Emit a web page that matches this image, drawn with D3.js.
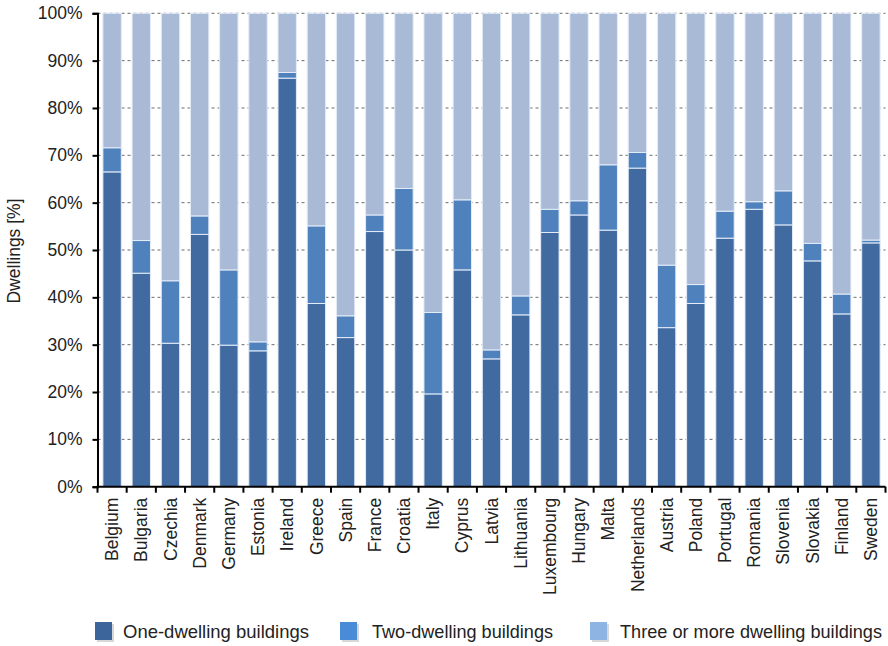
<!DOCTYPE html>
<html><head><meta charset="utf-8">
<script src="https://cdn.jsdelivr.net/npm/d3@7"></script>
<style>
html,body{margin:0;padding:0;background:#fff;}
svg{display:block;font-family:"Liberation Sans",Arial,sans-serif;}
</style></head>
<body><svg id="chart" width="888" height="646"></svg>
<script>
const categories = ["Belgium","Bulgaria","Czechia","Denmark","Germany","Estonia","Ireland","Greece","Spain","France","Croatia","Italy","Cyprus","Latvia","Lithuania","Luxembourg","Hungary","Malta","Netherlands","Austria","Poland","Portugal","Romania","Slovenia","Slovakia","Finland","Sweden"];
const oneDwelling   = [66.5,45.1,30.3,53.3,29.9,28.7,86.3,38.7,31.5,53.9,50.0,19.6,45.8,27.0,36.3,53.7,57.4,54.2,67.3,33.6,38.7,52.5,58.6,55.3,47.7,36.5,51.5];
const twoDwelling   = [5.1,6.9,13.2,3.9,15.9,1.9,1.2,16.4,4.6,3.5,13.0,17.2,14.8,1.9,4.0,4.9,3.0,13.8,3.3,13.2,4.0,5.7,1.6,7.2,3.7,4.2,0.6];
const threeDwelling = [28.4,48.0,56.5,42.8,54.2,69.4,12.5,44.9,63.9,42.6,37.0,63.2,39.4,71.1,59.7,41.4,39.6,32.0,29.4,53.2,57.3,41.8,39.8,37.5,48.6,59.3,47.9];
const seriesNames = ["One-dwelling buildings","Two-dwelling buildings","Three or more dwelling buildings"];
const yTicks = [0,10,20,30,40,50,60,70,80,90,100];

const barColors = ["#406AA0","#4F81BD","#A9BAD7"];
const legendColors = ["#3C659C","#4A8BD8","#8DB4E2"];

const svg = d3.select("#chart");
const plotLeft = 97.5, plotRight = 885.5, plotTop = 13.3, plotBottom = 486.7;

const rows = categories.map((c,i)=>({cat:c, s0:oneDwelling[i], s1:twoDwelling[i], s2:threeDwelling[i]}));
const stacked = d3.stack().keys(["s0","s1","s2"])(rows);

const x = d3.scaleBand().domain(categories).range([plotLeft,plotRight]).paddingInner(0.37).paddingOuter(0.185);
const y = d3.scaleLinear().domain([0,100]).range([plotBottom,plotTop]);

// gridlines
svg.append("g").selectAll("line").data(yTicks.filter(d=>d>0)).join("line")
  .attr("x1",plotLeft).attr("x2",plotRight)
  .attr("y1",d=>y(d)).attr("y2",d=>y(d))
  .attr("stroke","#6b6b6b").attr("stroke-width",1).attr("stroke-dasharray","3,3");

// bars
svg.append("g").selectAll("g").data(stacked).join("g")
  .attr("fill",(d,i)=>barColors[i])
  .selectAll("rect").data(d=>d.map(v=>({v, cat:v.data.cat}))).join("rect")
  .attr("x",d=>x(d.cat)).attr("width",x.bandwidth())
  .attr("y",d=>y(d.v[1])).attr("height",d=>Math.max(0,y(d.v[0])-y(d.v[1])))
  .attr("stroke","#e4ecf8").attr("stroke-width",1);

// y axis
const yAxis = svg.append("g").attr("transform",`translate(${plotLeft},0)`)
  .call(d3.axisLeft(y).tickValues(yTicks).tickFormat(d=>d+"%").tickSize(5).tickPadding(10));
yAxis.select(".domain").attr("stroke","#000").attr("stroke-width",2);
yAxis.selectAll(".tick line").attr("stroke","#000").attr("stroke-width",2);
yAxis.selectAll(".tick text").attr("font-size","17.5px").attr("fill","#222")
  .attr("font-family","Liberation Sans, Arial, sans-serif");

// x axis
const xTickPos = categories.map((c,i)=>x(c) - x.step()*x.paddingInner()/2);
xTickPos.push(plotRight);
const xAxisG = svg.append("g");
xAxisG.append("line").attr("x1",plotLeft-1).attr("x2",plotRight).attr("y1",plotBottom).attr("y2",plotBottom)
  .attr("stroke","#000").attr("stroke-width",2);
xAxisG.selectAll("line.t").data(xTickPos).join("line").attr("class","t")
  .attr("x1",d=>d).attr("x2",d=>d).attr("y1",plotBottom).attr("y2",plotBottom+6)
  .attr("stroke","#000").attr("stroke-width",2);
xAxisG.selectAll("text").data(categories).join("text")
  .attr("transform",d=>`translate(${x(d)+x.bandwidth()/2},${plotBottom+11}) rotate(-90)`)
  .attr("text-anchor","end").attr("dy","0.35em")
  .attr("font-size","17.5px").attr("fill","#222").text(d=>d);

// y label
svg.append("text").attr("transform","translate(14,251) rotate(-90)")
  .attr("text-anchor","middle").attr("dy","0.35em")
  .attr("font-size","17.5px").attr("fill","#222").text("Dwellings [%]");

// legend
const legendX = [95,340,590];
const legendTextX = [123,372,620];
const legendTextW = [186,181,262];
const lg = svg.append("g");
seriesNames.forEach((n,i)=>{
  lg.append("rect").attr("x",legendX[i]+2).attr("y",624).attr("width",17).attr("height",18)
    .attr("fill","#c8c8c8").attr("opacity",0.7);
  lg.append("rect").attr("x",legendX[i]).attr("y",622).attr("width",17).attr("height",18)
    .attr("fill",legendColors[i]);
  lg.append("text").attr("x",legendTextX[i]).attr("y",638)
    .attr("font-size","18.4px").attr("fill","#222")
    .attr("textLength",legendTextW[i]).attr("lengthAdjust","spacingAndGlyphs").text(n);
});
</script></body></html>
